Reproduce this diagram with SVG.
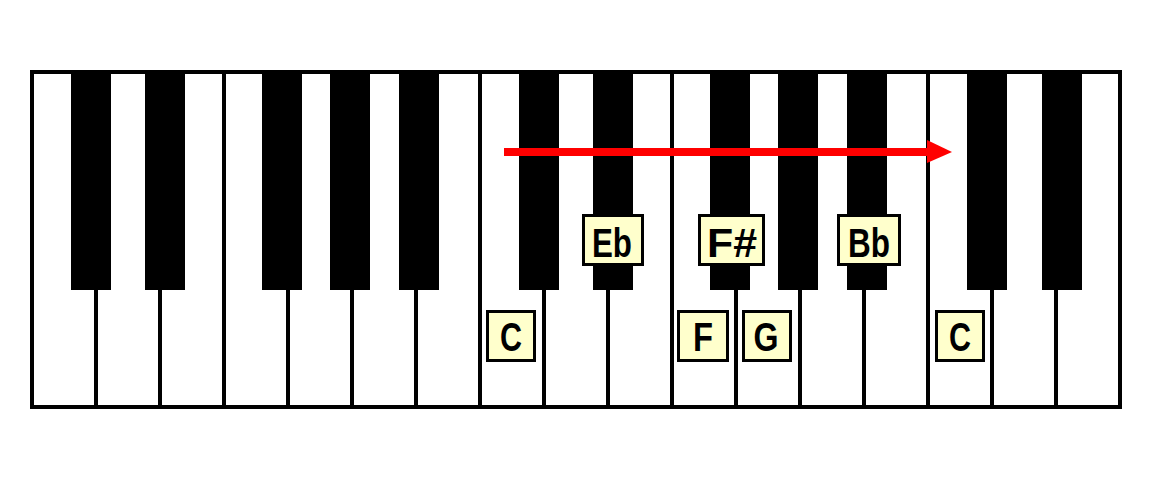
<svg xmlns="http://www.w3.org/2000/svg" width="1152" height="480" viewBox="0 0 1152 480">
<style>
.wl{stroke:#000;stroke-width:4}
.bk{fill:#000}
.lb rect{fill:#FFFFCC;stroke:#000;stroke-width:3}
.lb text{font-family:"Liberation Sans",Arial,sans-serif;font-weight:bold;font-size:40px;text-anchor:middle;fill:#000}
</style>
<rect width="1152" height="480" fill="#fff"/>
<g id="keyboard">
<rect x="32" y="72" width="1088" height="335" fill="#fff" stroke="#000" stroke-width="4"/>
<g id="white-key-lines" class="wl">
<line x1="96" y1="72" x2="96" y2="407"/>
<line x1="160" y1="72" x2="160" y2="407"/>
<line x1="224" y1="72" x2="224" y2="407"/>
<line x1="288" y1="72" x2="288" y2="407"/>
<line x1="352" y1="72" x2="352" y2="407"/>
<line x1="416" y1="72" x2="416" y2="407"/>
<line x1="480" y1="72" x2="480" y2="407"/>
<line x1="544" y1="72" x2="544" y2="407"/>
<line x1="608" y1="72" x2="608" y2="407"/>
<line x1="672" y1="72" x2="672" y2="407"/>
<line x1="736" y1="72" x2="736" y2="407"/>
<line x1="800" y1="72" x2="800" y2="407"/>
<line x1="864" y1="72" x2="864" y2="407"/>
<line x1="928" y1="72" x2="928" y2="407"/>
<line x1="992" y1="72" x2="992" y2="407"/>
<line x1="1056" y1="72" x2="1056" y2="407"/>
</g>
<g id="black-keys" class="bk">
<rect x="71" y="72" width="40" height="218"/>
<rect x="145" y="72" width="40" height="218"/>
<rect x="262" y="72" width="40" height="218"/>
<rect x="330" y="72" width="40" height="218"/>
<rect x="399" y="72" width="40" height="218"/>
<rect x="519" y="72" width="40" height="218"/>
<rect x="593" y="72" width="40" height="218"/>
<rect x="710" y="72" width="40" height="218"/>
<rect x="778" y="72" width="40" height="218"/>
<rect x="847" y="72" width="40" height="218"/>
<rect x="967" y="72" width="40" height="218"/>
<rect x="1042" y="72" width="40" height="218"/>
</g>
</g>
<g id="connectors">
<rect x="504" y="148" width="425" height="8" fill="#FF0000"/>
<polygon points="927,140 952,152 927,163" fill="#FF0000"/>
</g>
<g id="label-C1" class="lb"><rect x="487.5" y="311.5" width="47" height="49"/><text x="511" y="351" textLength="22" lengthAdjust="spacingAndGlyphs">C</text></g>
<g id="label-Eb" class="lb"><rect x="583.5" y="215.5" width="59" height="49"/><text x="612" y="257" textLength="40" lengthAdjust="spacingAndGlyphs">Eb</text></g>
<g id="label-Fsharp" class="lb"><rect x="699.5" y="215.5" width="64" height="49"/><text x="732" y="257" textLength="50" lengthAdjust="spacingAndGlyphs">F#</text></g>
<g id="label-F" class="lb"><rect x="678.5" y="311.5" width="49" height="49"/><text x="703" y="351" textLength="20" lengthAdjust="spacingAndGlyphs">F</text></g>
<g id="label-G" class="lb"><rect x="743.5" y="311.5" width="47" height="49"/><text x="766" y="351" textLength="25" lengthAdjust="spacingAndGlyphs">G</text></g>
<g id="label-Bb" class="lb"><rect x="838.5" y="215.5" width="61" height="49"/><text x="869" y="257" textLength="42" lengthAdjust="spacingAndGlyphs">Bb</text></g>
<g id="label-C2" class="lb"><rect x="936.5" y="311.5" width="47" height="49"/><text x="960" y="351" textLength="22" lengthAdjust="spacingAndGlyphs">C</text></g>
</svg>
